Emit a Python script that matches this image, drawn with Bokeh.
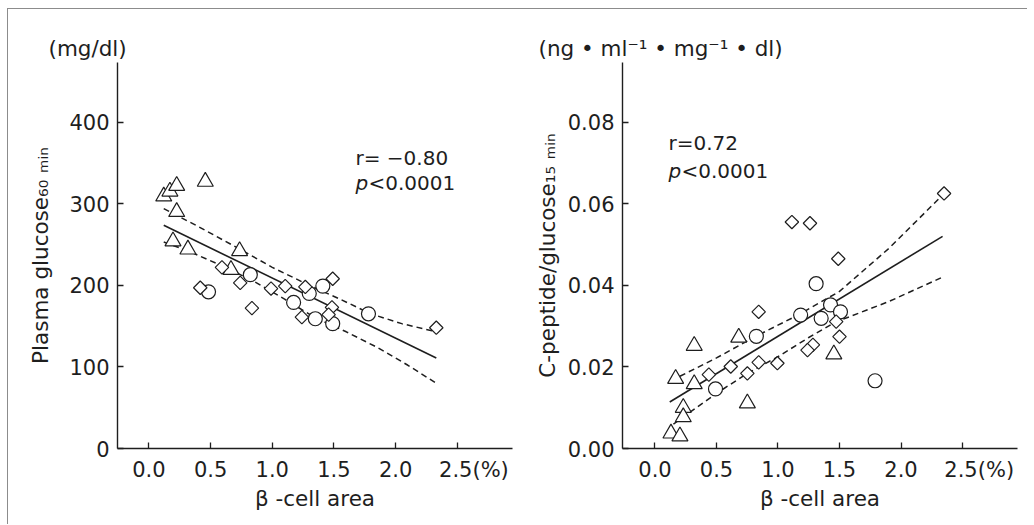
import numpy as np
from bokeh.plotting import figure
from bokeh.models import Range1d, FixedTicker, Label, NumeralTickFormatter, Title
from bokeh.layouts import row
from bokeh.embed import file_html
from bokeh.resources import INLINE

# ---------------- data ----------------
x_ticks = [0.0, 0.5, 1.0, 1.5, 2.0, 2.5]
# "2.5" stays centred on its tick; the leading blanks balance the "(%)"
last_x_tick_label = "\u200b\u2007\u2007\u00a02.5(%)"
left_y_ticks = [0, 100, 200, 300, 400]
right_y_ticks = [0.00, 0.02, 0.04, 0.06, 0.08]

# Left panel: plasma glucose 60 min (mg/dl) vs beta-cell area (%)
left_tri_x = [0.12, 0.17, 0.225, 0.457, 0.225, 0.195, 0.316, 0.735, 0.665]
left_tri_y = [309, 315, 322, 327, 290, 254, 244, 242, 219]
left_cir_x = [0.483, 0.822, 1.173, 1.30, 1.41, 1.349, 1.49, 1.78]
left_cir_y = [192, 213, 179, 190, 199, 159, 153, 165]
left_dia_x = [0.416, 0.592, 0.74, 0.835, 0.99, 1.105, 1.268, 1.49, 1.24, 1.484, 1.457, 2.33]
left_dia_y = [197, 222, 203, 172, 196, 199, 198, 208, 161, 173, 164, 148]
left_fit_x = [0.12, 2.33]
left_fit_y = [273.5, 111]
left_up_x = [0.12, 0.4, 0.74, 1.0, 1.3, 1.55, 1.8, 2.05, 2.33]
left_upper = [294, 272, 244, 222, 200, 183, 165, 153, 143]
left_lo_x = [0.12, 0.32, 0.59, 0.85, 1.1, 1.35, 1.6, 1.85, 2.1, 2.33]
left_lower = [253, 242, 224, 205, 183, 160, 143, 124, 102, 80]

# Right panel: C-peptide/glucose 15 min vs beta-cell area (%)
right_tri_x = [0.319, 0.681, 1.454, 0.168, 0.319, 0.751, 0.23, 0.23, 0.13, 0.203]
right_tri_y = [0.0252, 0.0272, 0.0231, 0.0171, 0.0158, 0.0111, 0.0100, 0.0077, 0.0037, 0.0030]
right_cir_x = [1.31, 1.427, 1.508, 1.184, 1.351, 0.824, 0.492, 1.789]
right_cir_y = [0.0404, 0.0352, 0.0335, 0.0327, 0.0319, 0.0275, 0.0146, 0.0166]
right_dia_x = [2.35, 1.113, 1.26, 1.49, 0.843, 1.473, 1.5, 1.284, 1.24, 0.843, 0.995, 0.616, 0.751, 0.438]
right_dia_y = [0.0625, 0.0555, 0.0552, 0.0465, 0.0335, 0.0311, 0.0274, 0.0254, 0.0241, 0.0211, 0.0209, 0.0201, 0.0184, 0.0181]
right_fit_x = [0.12, 2.338]
right_fit_y = [0.0114, 0.052]
right_up_x = [0.13, 0.5, 0.82, 1.15, 1.5, 1.9, 2.338]
right_upper = [0.0166, 0.0222, 0.0275, 0.0325, 0.0385, 0.049, 0.0621]
right_lo_x = [0.15, 0.5, 0.75, 1.0, 1.25, 1.47, 1.9, 2.338]
right_lower = [0.006, 0.0135, 0.0184, 0.0225, 0.0272, 0.031, 0.036, 0.042]

# ---------------- styling ----------------
FONT = "DejaVu Sans"
INK = "#1e1e1e"
TICK_SIZE = "21px"
TITLE_SIZE = "21.5px"


def make_fig(width, xr, yr, yticks, yfmt, border_left, border_right,
             ylabel, ylabel_standoff, unit_text, unit_offset):
    p = figure(width=width, height=515, x_range=Range1d(*xr), y_range=Range1d(*yr),
               output_backend="svg", toolbar_location=None,
               min_border_left=border_left, min_border_right=border_right,
               min_border_top=53, min_border_bottom=76)
    p.grid.visible = False
    p.outline_line_color = None
    p.background_fill_color = "white"
    p.border_fill_color = "white"
    p.xaxis.ticker = FixedTicker(ticks=x_ticks)
    p.xaxis.formatter = NumeralTickFormatter(format="0.0")
    p.xaxis.major_label_overrides = {x_ticks[-1]: last_x_tick_label}
    p.yaxis.ticker = FixedTicker(ticks=yticks)
    p.yaxis.formatter = NumeralTickFormatter(format=yfmt)
    for ax in (p.xaxis[0], p.yaxis[0]):
        ax.axis_line_color = INK
        ax.axis_line_width = 1.4
        ax.major_tick_line_color = INK
        ax.major_tick_line_width = 1.3
        ax.major_tick_in = 6
        ax.major_tick_out = 0
        ax.minor_tick_line_color = None
        ax.major_label_text_font = FONT
        ax.major_label_text_font_size = TICK_SIZE
        ax.major_label_text_color = INK
        ax.axis_label_text_font = FONT
        ax.axis_label_text_font_size = TITLE_SIZE
        ax.axis_label_text_font_style = "normal"
        ax.axis_label_text_color = INK
    p.xaxis.major_label_standoff = 9
    p.yaxis.major_label_standoff = 8
    p.xaxis.axis_label = "\u03b2 -cell area"
    p.xaxis.axis_label_standoff = 1
    p.yaxis.axis_label = ylabel
    p.yaxis.axis_label_standoff = ylabel_standoff
    p.add_layout(Title(text=unit_text, align="left", offset=unit_offset, standoff=3,
                       text_font=FONT, text_font_size=TITLE_SIZE,
                       text_font_style="normal", text_color=INK), "above")
    return p


def lab(p, text, x, y, size="20px", style="normal"):
    p.add_layout(Label(x=x, y=y, x_units="screen", y_units="screen", text=text,
                       text_font=FONT, text_font_size=size, text_font_style=style,
                       text_color=INK, text_align="left", text_baseline="middle"))


def draw_points(p, tx, ty, cx, cy, dx, dy):
    p.scatter(tx, ty, marker="triangle", size=16, fill_color="white",
              line_color=INK, line_width=1.2)
    p.scatter(cx, cy, marker="circle", size=14, fill_color="white",
              line_color=INK, line_width=1.2)
    p.scatter(dx, dy, marker="square", angle=np.pi / 4, size=9.5, fill_color="white",
              line_color=INK, line_width=1.2)


# ---------------- left panel ----------------
p1 = make_fig(509, (-0.255, 2.948), (0, 473), left_y_ticks, "0", 109, 5,
              "Plasma glucose\u2086\u2080 \u2098\u1d62\u2099", 13, "(mg/dl)", -69)
p1.line(left_up_x, left_upper, line_color=INK, line_width=1.5, line_dash="6 4")
p1.line(left_lo_x, left_lower, line_color=INK, line_width=1.5, line_dash="6 4")
p1.line(left_fit_x, left_fit_y, line_color=INK, line_width=1.6)
draw_points(p1, left_tri_x, left_tri_y, left_cir_x, left_cir_y, left_dia_x, left_dia_y)
lab(p1, "r= \u22120.80", 238, 291)
lab(p1, "p", 238, 266, style="italic")
lab(p1, "<0.0001", 251, 266)

# ---------------- right panel ----------------
p2 = make_fig(510, (-0.264, 2.947), (0, 0.0946), right_y_ticks, "0.00", 105, 10,
              "C-peptide/glucose\u2081\u2085 \u2098\u1d62\u2099", 5,
              "(ng \u2022 ml\u207b\u00b9 \u2022 mg\u207b\u00b9 \u2022 dl)", -84)
p2.line(right_up_x, right_upper, line_color=INK, line_width=1.5, line_dash="6 4")
p2.line(right_lo_x, right_lower, line_color=INK, line_width=1.5, line_dash="6 4")
p2.line(right_fit_x, right_fit_y, line_color=INK, line_width=1.6)
draw_points(p2, right_tri_x, right_tri_y, right_cir_x, right_cir_y, right_dia_x, right_dia_y)
lab(p2, "r=0.72", 46, 306)
lab(p2, "p", 46, 278, style="italic")
lab(p2, "<0.0001", 59, 278)

layout = row(p1, p2, styles={"margin-top": "8px", "margin-left": "7px",
                             "border-top": "1px solid #8c8c8c",
                             "border-left": "1px solid #8c8c8c"})

open("out.html", "w").write(file_html(layout, INLINE))
